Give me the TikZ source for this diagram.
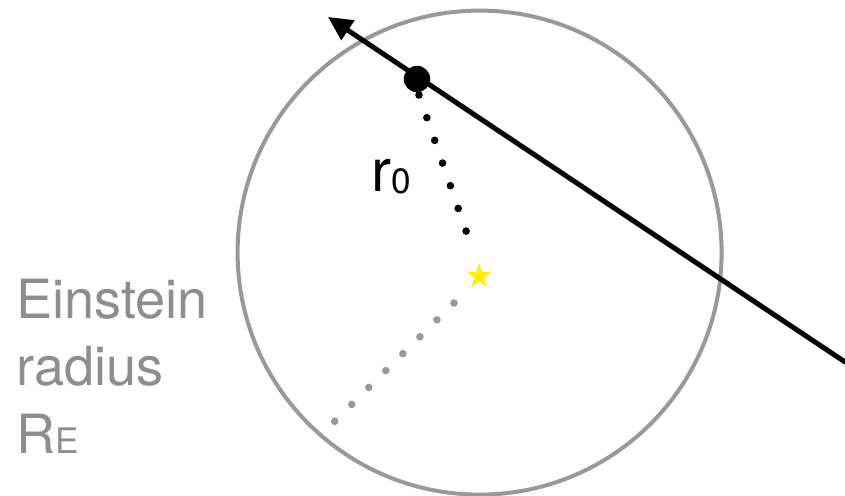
\documentclass[tikz,border=0pt]{standalone}
\usepackage{fontspec}
\setmainfont{TeX Gyre Heros}
\usetikzlibrary{arrows.meta,shapes.geometric,positioning}
\definecolor{lensgray}{HTML}{999999}
\definecolor{lenstext}{HTML}{8E8E8E}
\definecolor{lensstar}{HTML}{FFEF00}
\begin{document}
\begin{tikzpicture}[line cap=round,line join=round,
  bigdot/.style={circle,inner sep=0pt,minimum size=.66cm,fill=black},
  srcstar/.style={star,star points=5,star point ratio=2.5,inner sep=0pt,minimum size=.64cm,fill=lensstar},
  dotrow/.style={line width=.19cm,line cap=round,dash pattern=on 0pt off .6cm},
  label/.style={inner sep=0pt,align=left}]
\path[use as bounding box] (0,0) rectangle (21.125,12.375);
\fill[white] (0,0) rectangle (21.125,12.375);
\coordinate (lens) at (11.99,6.06);
% Einstein ring
\draw[lensgray,line width=.1cm] (lens) circle[radius=6.05];
% source track
\coordinate (trackstart) at (21.125,3.325);
\coordinate (tracktip) at (8.2,11.95);
\draw[line width=.125cm,-{Triangle[length=.6cm,width=.57cm]}] (trackstart) -- (tracktip);
\node[bigdot] (closest) at (10.425,10.4) {};
\node[srcstar] (src) at (11.975,5.475) {};
% impact parameter and ring radius
\coordinate (rzeroa) at (10.475,10.0);
\coordinate (rzerob) at (11.657,6.583);
\draw[dotrow,black] (rzeroa) -- (rzerob);
\coordinate (reina) at (11.35,4.8);
\coordinate (reinb) at (8.36,1.835);
\draw[dotrow,lensgray] (reina) -- (reinb);
% labels
\node[label,anchor=base west,font=\fontsize{42.5}{42.5}\selectfont] (rzero) at (9.28,7.575)
  {r\raisebox{-1pt}{\fontsize{25}{25}\selectfont 0}};
\node[label,anchor=base west,text=lenstext,font=\fontsize{38.5}{47.7}\selectfont] (ringlabel) at (0.4,1.05)
  {Einstein\\radius\\R{\fontsize{25}{25}\selectfont E}};
\end{tikzpicture}
\end{document}
